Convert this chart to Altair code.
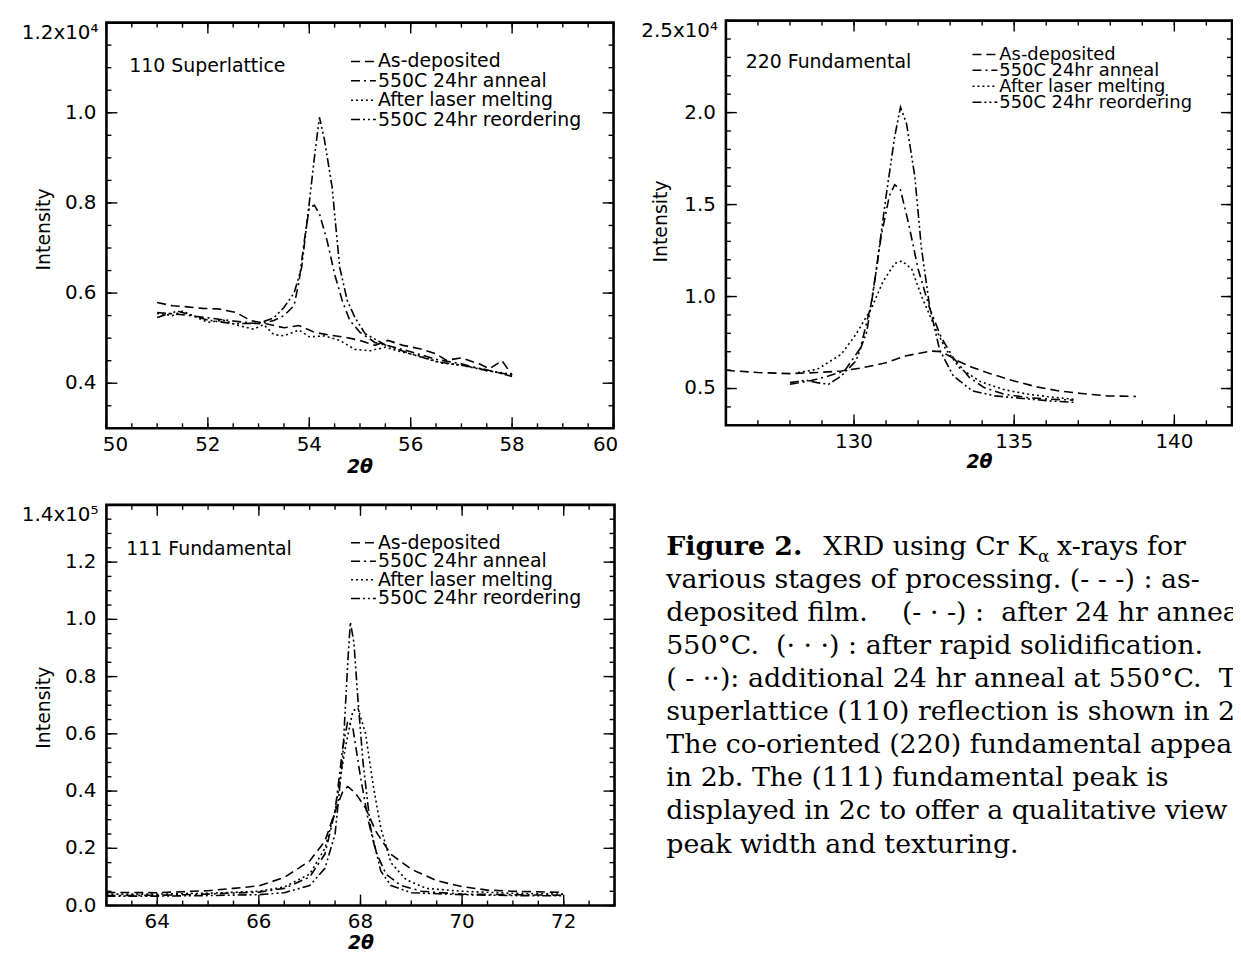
import altair as alt
import pandas as pd
import numpy as np

SANS = "DejaVu Sans"
SERIF = "DejaVu Serif"

SERIES = ["As-deposited", "550C 24hr anneal", "After laser melting", "550C 24hr reordering"]
DASHES = [[9, 5], [9, 4, 2, 4], [2, 3], [9, 3, 2, 3, 2, 3]]

# ---------------- Panel a: 110 Superlattice (x10^4) ----------------
a_asdep_x = [51.0, 51.3, 51.55, 51.9, 52.2, 52.55, 52.85, 53.15, 53.5, 53.8, 54.1, 54.4, 54.7, 55.0, 55.3, 55.55, 55.85, 56.2, 56.5, 56.7, 57.0, 57.35, 57.55, 57.8, 58.0]
a_asdep_y = [0.579, 0.572, 0.570, 0.566, 0.565, 0.557, 0.539, 0.532, 0.523, 0.528, 0.513, 0.507, 0.502, 0.495, 0.484, 0.495, 0.484, 0.476, 0.465, 0.451, 0.456, 0.443, 0.432, 0.450, 0.418]
a_anneal_x = [51.0, 51.5, 52.0, 52.5, 53.0, 53.3, 53.5, 53.7, 53.8, 53.9, 54.0, 54.1, 54.2, 54.35, 54.5, 54.65, 54.8, 55.0, 55.3, 55.6, 56.0, 56.5, 57.0, 57.5, 58.0]
a_anneal_y = [0.557, 0.552, 0.545, 0.538, 0.532, 0.539, 0.550, 0.572, 0.627, 0.715, 0.790, 0.795, 0.776, 0.717, 0.642, 0.583, 0.539, 0.513, 0.490, 0.482, 0.470, 0.453, 0.443, 0.428, 0.418]
a_laser_x = [51.0, 51.3, 51.5, 51.8, 52.0, 52.3, 52.6, 52.9, 53.1, 53.3, 53.5, 53.8, 54.0, 54.3, 54.6, 54.9, 55.2, 55.5, 55.8, 56.2, 56.6, 57.0, 57.5, 58.0]
a_laser_y = [0.555, 0.550, 0.560, 0.545, 0.535, 0.540, 0.528, 0.520, 0.530, 0.508, 0.505, 0.518, 0.503, 0.505, 0.495, 0.475, 0.472, 0.480, 0.470, 0.460, 0.445, 0.440, 0.428, 0.420]
a_reorder_x = [51.0, 51.4, 51.7, 52.0, 52.5, 53.0, 53.3, 53.5, 53.7, 53.85, 54.0, 54.1, 54.2, 54.3, 54.45, 54.6, 54.75, 54.9, 55.1, 55.5, 56.0, 56.5, 57.0, 57.5, 58.0]
a_reorder_y = [0.546, 0.560, 0.550, 0.540, 0.532, 0.533, 0.545, 0.568, 0.600, 0.657, 0.800, 0.900, 0.990, 0.940, 0.835, 0.657, 0.583, 0.546, 0.510, 0.485, 0.465, 0.448, 0.440, 0.430, 0.415]
a_xticks = [50, 52, 54, 56, 58, 60]
a_xlabels = ["50", "52", "54", "56", "58", "60"]
a_yticks = [0.4, 0.6, 0.8, 1.0, 1.2]
a_ylabels = ["0.4", "0.6", "0.8", "1.0", "1.2x10\u2074"]

# ---------------- Panel b: 220 Fundamental (x10^4) ----------------
b_asdep_x = [126.0, 127.0, 128.0, 128.85, 129.6, 130.3, 131.0, 131.6, 132.4, 132.75, 133.2, 133.7, 134.3, 135.0, 135.7, 136.4, 137.1, 137.9, 138.8]
b_asdep_y = [0.599, 0.587, 0.581, 0.587, 0.595, 0.614, 0.640, 0.677, 0.704, 0.700, 0.653, 0.614, 0.578, 0.541, 0.509, 0.487, 0.473, 0.460, 0.457]
b_anneal_x = [128.0, 128.6, 129.2, 129.7, 130.2, 130.55, 130.85, 131.1, 131.27, 131.45, 131.7, 132.0, 132.36, 132.73, 133.1, 133.6, 134.06, 134.67, 135.4, 136.1, 136.85]
b_anneal_y = [0.523, 0.541, 0.568, 0.595, 0.720, 0.970, 1.330, 1.545, 1.608, 1.580, 1.400, 1.150, 0.937, 0.775, 0.668, 0.560, 0.505, 0.470, 0.451, 0.442, 0.437]
b_laser_x = [128.25, 128.85, 129.6, 130.06, 130.55, 130.9, 131.27, 131.5, 131.8, 132.1, 132.5, 132.85, 133.3, 133.95, 134.7, 135.4, 136.1, 136.85]
b_laser_y = [0.587, 0.604, 0.686, 0.794, 0.938, 1.080, 1.180, 1.194, 1.150, 1.005, 0.843, 0.718, 0.611, 0.537, 0.493, 0.470, 0.455, 0.442]
b_reorder_x = [128.0, 128.5, 128.85, 129.2, 129.6, 130.06, 130.4, 130.7, 131.0, 131.27, 131.45, 131.64, 131.9, 132.1, 132.36, 132.67, 133.1, 133.7, 134.4, 135.27, 136.1, 136.85]
b_reorder_y = [0.532, 0.545, 0.532, 0.523, 0.568, 0.650, 0.810, 1.150, 1.545, 1.870, 2.030, 1.940, 1.650, 1.270, 0.946, 0.712, 0.568, 0.487, 0.460, 0.446, 0.433, 0.425]
b_xticks = [130, 135, 140]
b_xlabels = ["130", "135", "140"]
b_yticks = [0.5, 1.0, 1.5, 2.0, 2.5]
b_ylabels = ["0.5", "1.0", "1.5", "2.0", "2.5x10\u2074"]

# ---------------- Panel c: 111 Fundamental (x10^5) ----------------
c_asdep_x = [63.0, 64.0, 65.0, 65.5, 66.0, 66.5, 67.0, 67.3, 67.5, 67.65, 67.75, 67.9, 68.1, 68.3, 68.6, 69.0, 69.5, 70.0, 70.5, 71.0, 72.0]
c_asdep_y = [0.046, 0.045, 0.052, 0.060, 0.069, 0.098, 0.156, 0.225, 0.329, 0.398, 0.416, 0.393, 0.341, 0.260, 0.179, 0.127, 0.087, 0.066, 0.054, 0.050, 0.046]
c_anneal_x = [63.0, 64.0, 65.0, 66.0, 66.5, 67.0, 67.3, 67.5, 67.65, 67.75, 67.85, 68.0, 68.15, 68.3, 68.5, 68.8, 69.2, 70.0, 71.0, 72.0]
c_anneal_y = [0.035, 0.036, 0.040, 0.047, 0.060, 0.100, 0.180, 0.330, 0.550, 0.645, 0.620, 0.450, 0.300, 0.190, 0.110, 0.070, 0.050, 0.040, 0.038, 0.036]
c_laser_x = [63.0, 64.0, 65.0, 66.0, 66.5, 67.0, 67.3, 67.5, 67.7, 67.85, 67.95, 68.1, 68.25, 68.4, 68.6, 68.9, 69.3, 70.0, 71.0, 72.0]
c_laser_y = [0.040, 0.040, 0.043, 0.050, 0.065, 0.110, 0.200, 0.330, 0.550, 0.680, 0.690, 0.600, 0.420, 0.270, 0.150, 0.090, 0.060, 0.050, 0.043, 0.040]
c_reorder_x = [63.0, 64.0, 65.0, 66.0, 66.5, 67.0, 67.3, 67.5, 67.65, 67.75, 67.8, 67.87, 67.95, 68.05, 68.2, 68.4, 68.6, 69.0, 70.0, 71.0, 72.0]
c_reorder_y = [0.033, 0.033, 0.035, 0.038, 0.045, 0.070, 0.130, 0.250, 0.520, 0.850, 0.990, 0.920, 0.720, 0.500, 0.270, 0.120, 0.070, 0.045, 0.038, 0.035, 0.034]
c_xticks = [64, 66, 68, 70, 72]
c_xlabels = ["64", "66", "68", "70", "72"]
c_yticks = [0.0, 0.2, 0.4, 0.6, 0.8, 1.0, 1.2, 1.4]
c_ylabels = ["0.0", "0.2", "0.4", "0.6", "0.8", "1.0", "1.2", "1.4x10\u2075"]

CAPTION_LINES = [
    "various stages of processing. (- - -) : as-",
    "deposited film.\u00a0\u00a0\u00a0 (- \u00b7 -) :\u00a0 after 24 hr anneal at",
    "550\u00b0C.\u00a0 (\u00b7 \u00b7 \u00b7) : after rapid solidification.",
    "( - \u00b7\u00b7): additional 24 hr anneal at 550\u00b0C.\u00a0 The",
    "superlattice (110) reflection is shown in 2a.",
    "The co-oriented (220) fundamental appears",
    "in 2b. The (111) fundamental peak is",
    "displayed in 2c to offer a qualitative view of",
    "peak width and texturing.",
]

W, H = 1232, 946
ONE = pd.DataFrame({"k": [0]})


def series_df(xs_list, ys_list):
    rows = []
    for name, xs, ys in zip(SERIES, xs_list, ys_list):
        for x, y in zip(xs, ys):
            rows.append({"x": x, "y": y, "series": name})
    return pd.DataFrame(rows)


def panel(df, xdom, xrng, ydom, yrng, xticks, xlabels, xminor_step, yticks, ylabels,
          yminor_step, name, name_pos, legend_x, legend_y, legend_step, legend_fs,
          ytitle_pos, xtitle_pos):
    sx = alt.Scale(domain=xdom, range=xrng, nice=False, zero=False)
    sy = alt.Scale(domain=ydom, range=yrng, nice=False, zero=False)
    L = []
    L.append(alt.Chart(df).mark_line(strokeWidth=1.6, color="black").encode(
        x=alt.X("x:Q", scale=sx, axis=None),
        y=alt.Y("y:Q", scale=sy, axis=None),
        strokeDash=alt.StrokeDash("series:N", scale=alt.Scale(domain=SERIES, range=DASHES), legend=None),
    ))
    L.append(alt.Chart(ONE).mark_rect(fillOpacity=0, stroke="black", strokeWidth=2.6).encode(
        x=alt.XDatum(xdom[0], type="quantitative", scale=sx, axis=None),
        x2=alt.X2Datum(xdom[1]),
        y=alt.YDatum(ydom[0], type="quantitative", scale=sy, axis=None),
        y2=alt.Y2Datum(ydom[1]),
    ))
    xminor = list(np.round(np.arange(xdom[0], xdom[1] + 1e-9, xminor_step), 3))
    yminor = list(np.round(np.arange(ydom[0], ydom[1] + 1e-9, yminor_step), 3))
    for vals, ln in ((xminor, 5), (xticks, 11)):
        d = pd.DataFrame({"v": vals})
        for pos, sgn in ((ydom[0], -1), (ydom[1], 1)):
            L.append(alt.Chart(d).mark_tick(orient="vertical", size=ln, thickness=1.4, color="black",
                                            opacity=1, yOffset=sgn * ln / 2).encode(
                x=alt.X("v:Q", scale=sx, axis=None),
                y=alt.YDatum(pos, type="quantitative", scale=sy, axis=None)))
    for vals, ln in ((yminor, 5), (yticks, 11)):
        d = pd.DataFrame({"v": vals})
        for pos, sgn in ((xdom[0], 1), (xdom[1], -1)):
            L.append(alt.Chart(d).mark_tick(orient="horizontal", size=ln, thickness=1.4, color="black",
                                            opacity=1, xOffset=sgn * ln / 2).encode(
                y=alt.Y("v:Q", scale=sy, axis=None),
                x=alt.XDatum(pos, type="quantitative", scale=sx, axis=None)))
    # x tick labels; labels sitting on the frame corners are nudged inward
    xl = pd.DataFrame({"v": xticks, "t": xlabels})
    groups = [
        (xl[(xl.v > xdom[0]) & (xl.v < xdom[1])], 0),
        (xl[xl.v == xdom[0]], 9),
        (xl[xl.v == xdom[1]], -8),
    ]
    for g, ddx in groups:
        if len(g) == 0:
            continue
        L.append(alt.Chart(g).mark_text(
            font=SANS, fontSize=20, dy=17, dx=ddx, baseline="middle", color="black").encode(
            x=alt.X("v:Q", scale=sx, axis=None),
            y=alt.YDatum(ydom[0], type="quantitative", scale=sy, axis=None),
            text="t:N"))
    # y tick labels (top one aligned below its tick)
    L.append(alt.Chart(pd.DataFrame({"v": yticks[:-1], "t": ylabels[:-1]})).mark_text(
        font=SANS, fontSize=20, dx=-10, align="right", baseline="middle", color="black").encode(
        y=alt.Y("v:Q", scale=sy, axis=None),
        x=alt.XDatum(xdom[0], type="quantitative", scale=sx, axis=None),
        text="t:N"))
    L.append(alt.Chart(pd.DataFrame({"v": yticks[-1:], "t": ylabels[-1:]})).mark_text(
        font=SANS, fontSize=20, dx=-8, align="right", baseline="top", color="black").encode(
        y=alt.Y("v:Q", scale=sy, axis=None),
        x=alt.XDatum(xdom[0], type="quantitative", scale=sx, axis=None),
        text="t:N"))
    # axis titles
    L.append(alt.Chart(ONE).mark_text(font=SANS, fontSize=19, angle=270, baseline="middle",
                                      color="black").encode(
        x=alt.value(ytitle_pos[0]), y=alt.value(ytitle_pos[1]), text=alt.value("Intensity")))
    L.append(alt.Chart(ONE).mark_text(font=SANS, fontSize=19, fontStyle="italic", fontWeight="bold",
                                      baseline="middle", color="black").encode(
        x=alt.value(xtitle_pos[0]), y=alt.value(xtitle_pos[1]), text=alt.value("2\u03b8")))
    # panel name
    L.append(alt.Chart(ONE).mark_text(font=SANS, fontSize=19, align="left", baseline="alphabetic",
                                      color="black").encode(
        x=alt.value(name_pos[0]), y=alt.value(name_pos[1]), text=alt.value(name)))
    # legend
    for i, (s, dsh) in enumerate(zip(SERIES, DASHES)):
        yy = legend_y + i * legend_step - 6
        L.append(alt.Chart(ONE).mark_rule(color="black", strokeWidth=1.5).encode(
            x=alt.value(legend_x), x2=alt.value(legend_x + 25), y=alt.value(yy),
            strokeDash=alt.value(dsh)))
    L.append(alt.Chart(ONE).mark_text(font=SANS, fontSize=legend_fs, align="left", baseline="alphabetic",
                                      lineHeight=legend_step, color="black").encode(
        x=alt.value(legend_x + 27), y=alt.value(legend_y), text=alt.value(SERIES)))
    return L


layers = []
layers += panel(series_df([a_asdep_x, a_anneal_x, a_laser_x, a_reorder_x],
                          [a_asdep_y, a_anneal_y, a_laser_y, a_reorder_y]),
                [50, 60], [99, 609], [0.3, 1.2], [420, 12],
                a_xticks, a_xlabels, 0.5, a_yticks, a_ylabels, 0.05,
                "110  Superlattice", (122, 62), 345, 57, 19.5, 19, (36, 220), (354, 459))
layers += panel(series_df([b_asdep_x, b_anneal_x, b_laser_x, b_reorder_x],
                          [b_asdep_y, b_anneal_y, b_laser_y, b_reorder_y]),
                [126, 141.8], [722, 1231], [0.3, 2.5], [417, 10],
                b_xticks, b_xlabels, 1, b_yticks, b_ylabels, 0.1,
                "220  Fundamental", (742, 58), 970, 50, 16, 18, (657, 212), (977, 454))
layers += panel(series_df([c_asdep_x, c_anneal_x, c_laser_x, c_reorder_x],
                          [c_asdep_y, c_anneal_y, c_laser_y, c_reorder_y]),
                [63, 73], [99, 610], [0.0, 1.4], [900, 497],
                c_xticks, c_xlabels, 0.5, c_yticks, c_ylabels, 0.05,
                "111  Fundamental", (119, 547), 345, 541, 18.7, 19, (36, 701), (355, 938))

# caption
CX, CY, LH = 662, 547, 33.3
layers.append(alt.Chart(ONE).mark_text(font=SERIF, fontSize=27, fontWeight="bold", align="left",
                                       baseline="alphabetic", color="black").encode(
    x=alt.value(CX), y=alt.value(CY), text=alt.value("Figure 2.")))
layers.append(alt.Chart(ONE).mark_text(font=SERIF, fontSize=27, align="left",
                                       baseline="alphabetic", color="black").encode(
    x=alt.value(CX + 158), y=alt.value(CY), text=alt.value("XRD using Cr K")))
layers.append(alt.Chart(ONE).mark_text(font=SERIF, fontSize=17, align="left",
                                       baseline="alphabetic", color="black").encode(
    x=alt.value(CX + 374), y=alt.value(CY + 7), text=alt.value("\u03b1")))
layers.append(alt.Chart(ONE).mark_text(font=SERIF, fontSize=27, align="left",
                                       baseline="alphabetic", color="black").encode(
    x=alt.value(CX + 393), y=alt.value(CY), text=alt.value("x-rays for")))
layers.append(alt.Chart(ONE).mark_text(font=SERIF, fontSize=27, align="left",
                                       baseline="alphabetic", lineHeight=LH, color="black").encode(
    x=alt.value(CX), y=alt.value(CY + LH), text=alt.value(CAPTION_LINES)))

chart = alt.layer(*layers).resolve_scale(x="independent", y="independent").properties(
    width=W, height=H, padding=0, background="white",
    autosize=alt.AutoSizeParams(type="none")
).configure_view(strokeWidth=0, stroke="transparent")

chart.save("out.html", embed_options={"renderer": "svg", "actions": False})
